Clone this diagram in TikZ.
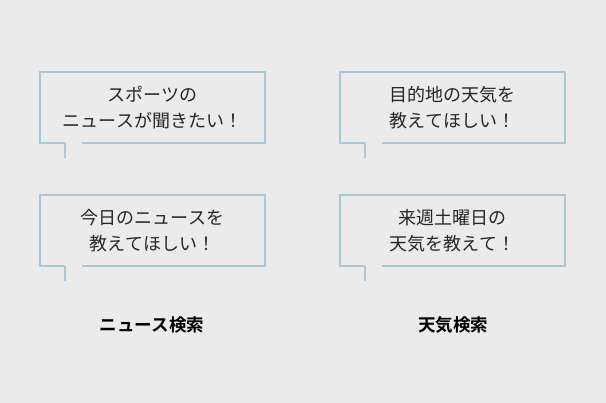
\documentclass[tikz,border=0pt]{standalone}
\usepackage{fontspec}
\newfontfamily\cjk{Noto Sans CJK JP}
\newfontfamily\cjkb{Noto Sans CJK JP Bold}
\definecolor{bg}{HTML}{EBEBEB}
\definecolor{bub}{HTML}{A9C7D6}
\tikzset{bubline/.style={draw=bub,line width=1.2pt},
 txt/.style={font=\cjk\fontsize{18}{26}\selectfont,align=center,text=black!85},
 lab/.style={font=\cjkb\fontsize{17.5}{20}\selectfont,text=black}}
\newcommand{\bubble}[4]{% x y name text
 \draw[bubline] (#1+25,-#2-71) -- (#1,-#2-71) -- (#1,-#2) -- (#1+225,-#2) -- (#1+225,-#2-71) -- (#1+42,-#2-71);
 \draw[bubline] (#1+25,-#2-71) -- (#1+25,-#2-86);
 \node[txt] (#3) at (#1+112.5,-#2-35.5) {#4};}
\begin{document}
\begin{tikzpicture}[x=1pt,y=1pt]
\fill[bg] (0,0) rectangle (606,-403);
\useasboundingbox (0,0) rectangle (606,-403);
\bubble{40}{72}{a}{スポーツの\\ニュースが聞きたい！}
\bubble{340}{72}{b}{目的地の天気を\\教えてほしい！}
\bubble{40}{195}{c}{今日のニュースを\\教えてほしい！}
\bubble{340}{195}{d}{来週土曜日の\\天気を教えて！}
\node[lab] (l1) at (152,-325) {ニュース検索};
\node[lab] (l2) at (453,-325) {天気検索};
\end{tikzpicture}
\end{document}
